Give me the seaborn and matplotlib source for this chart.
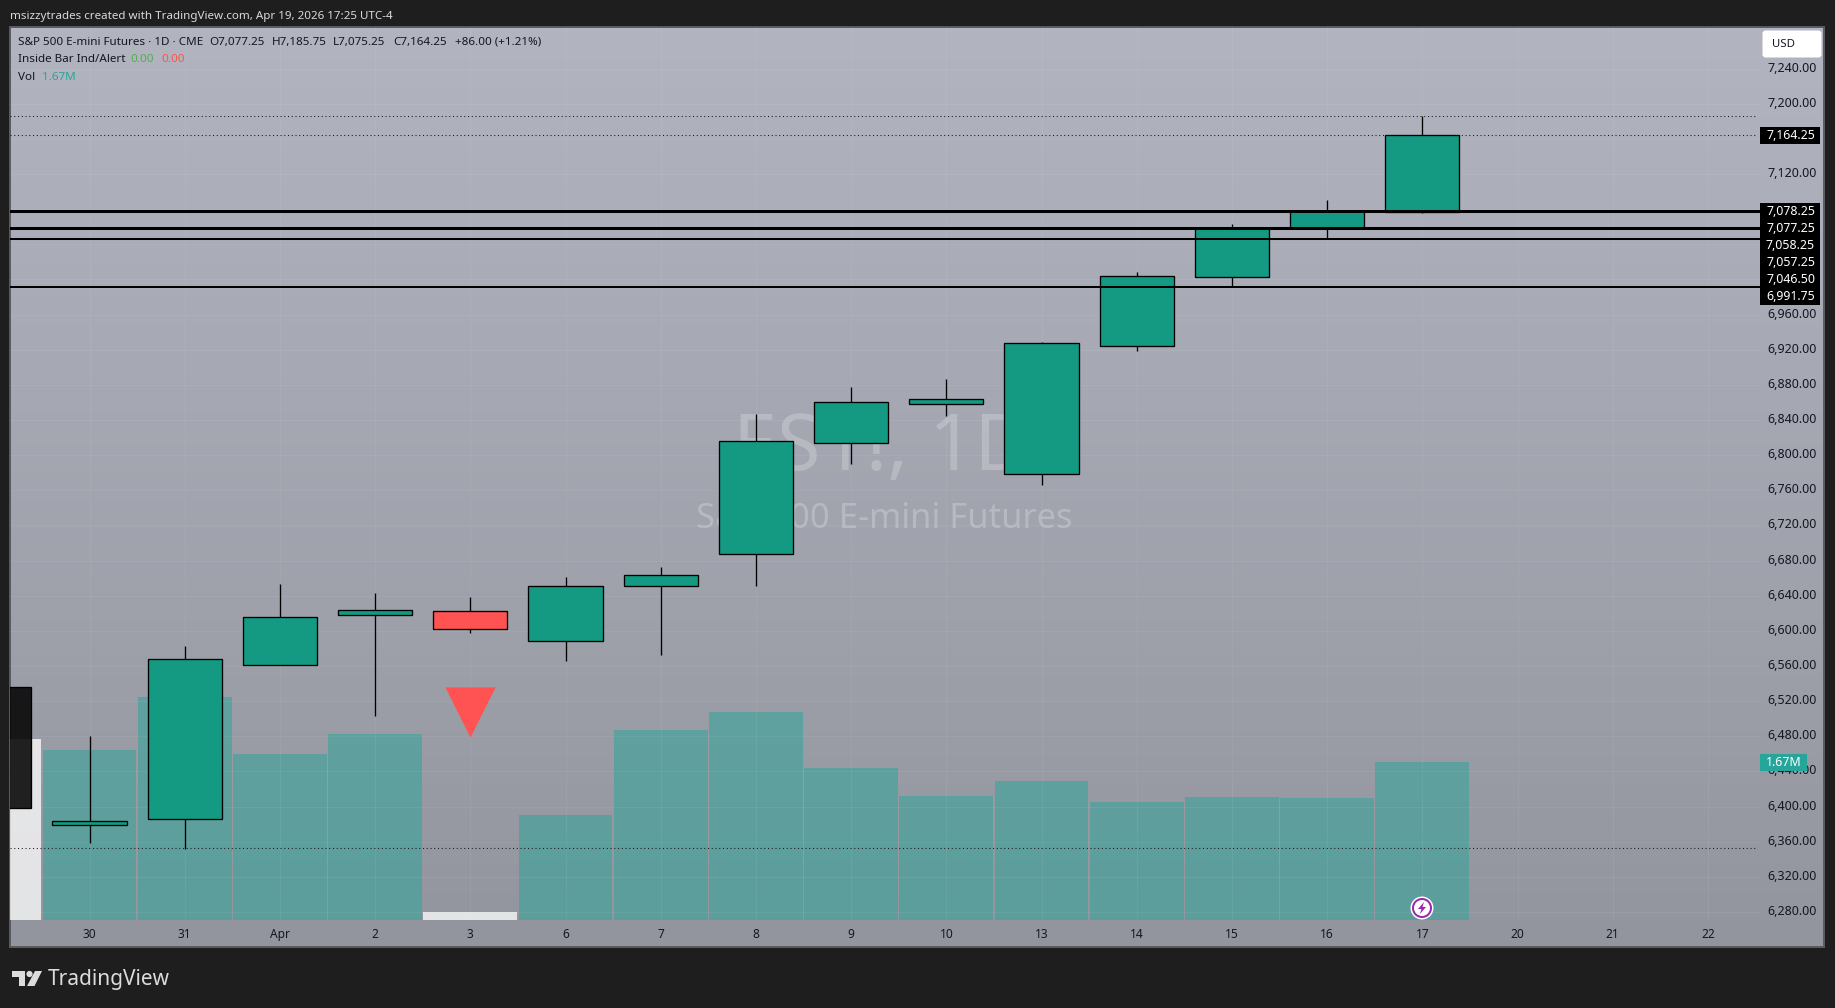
import numpy as np
import pandas as pd
import matplotlib.pyplot as plt
from matplotlib.patches import Rectangle, FancyBboxPatch, Circle, Polygon
from matplotlib.transforms import ScaledTranslation
import seaborn as sns

# Candles (index -1 is the bar cut by the left edge)
bar_index = [-1, 0, 1, 2, 3, 4, 5, 6, 7, 8, 9, 10, 11, 12, 13, 14]
opens = [6536, 6379, 6386, 6561, 6618, 6623, 6589, 6651, 6688, 6814, 6858, 6779, 6924, 7003, 7058.25, 7077.25]
closes = [6398, 6383, 6568, 6616, 6624, 6602, 6651, 6664, 6816, 6860, 6864, 6928, 7004, 7058.25, 7078.25, 7164.25]
highs = [6536, 6480, 6583, 6653, 6643, 6638, 6661, 6673, 6847, 6877, 6887, 6929, 7009, 7063, 7090, 7185.75]
lows = [6398, 6358, 6352, 6561, 6503, 6598, 6566, 6573, 6651, 6790, 6845, 6766, 6919, 6991, 7046, 7075.25]
body_colors = ["#000000", "#149a82", "#149a82", "#149a82", "#149a82", "#ff5252", "#149a82", "#149a82",
               "#149a82", "#149a82", "#149a82", "#149a82", "#149a82", "#149a82", "#149a82", "#149a82"]

# Volume in millions
volume = [1.91, 1.80, 2.36, 1.75, 1.97, 0.085, 1.115, 2.01, 2.20, 1.61, 1.31, 1.47, 1.25, 1.30, 1.29, 1.67]
vol_side = ["down", "up", "up", "up", "up", "down", "up", "up", "up", "up", "up", "up", "up", "up", "up", "up"]

# Axis labels
date_labels = ["30", "31", "Apr", "2", "3", "6", "7", "8", "9", "10", "13", "14", "15", "16", "17", "20", "21", "22"]
price_ticks = list(range(6280, 7241, 40))
hidden_ticks = [7160, 7080, 7040, 7000]

# Levels
solid_levels = [7078.25, 7077.25, 7058.25, 7057.25, 7046.50, 6991.75]
dotted_levels = [7185.75, 7164.25, 6352.5]
signal_x = [4]
signal_y = [6508]

W, H = 1835, 1008
DARK = "#1e1e1e"
TXT = "#131722"

sns.set_theme(style="white")
plt.rcParams["font.family"] = ["Noto Sans", "DejaVu Sans"]

fig = plt.figure(figsize=(W / 100, H / 100), dpi=100, facecolor=DARK)


def px_axes(zorder):
    a = fig.add_axes([0, 0, 1, 1], zorder=zorder)
    a.set_xlim(0, W)
    a.set_ylim(H, 0)
    a.axis("off")
    a.patch.set_alpha(0)
    return a


# background panel and watermark
bg = px_axes(0)
top_col = np.array([178, 181, 192]) / 255
bot_col = np.array([147, 149, 158]) / 255
grad = np.linspace(top_col, bot_col, 256).reshape(256, 1, 3)
bg.imshow(grad, extent=(10, 1824, 947, 27), aspect="auto", zorder=0)
bg.set_xlim(0, W)
bg.set_ylim(H, 0)
bg.add_patch(Rectangle((10, 27), 1814, 920, fill=False, edgecolor="#5a5b60", lw=1.4, zorder=1))
bg.text(882, 450, "ES1!, 1D", color="white", alpha=0.22, fontsize=57, ha="center", va="center", zorder=2)
bg.text(884, 519, "S&P 500 E-mini Futures", color="white", alpha=0.24, fontsize=24.9,
        ha="center", va="center", zorder=2)

# pane position in figure fractions
pane = [10 / W, 1 - 920 / H, 1750 / W, 893 / H]
xlim = ((10 - 89.5) / 95.2, (1760 - 89.5) / 95.2)
ylim = (7240 - (920 - 68.6) / 0.8785, 7240 + (68.6 - 27) / 0.8785)

# volume bars
vol_ax = fig.add_axes(pane, zorder=1)
vol_ax.patch.set_alpha(0)
vol_df = pd.DataFrame({"idx": bar_index, "vol": volume, "side": vol_side})
sns.barplot(data=vol_df, x="idx", y="vol", hue="side", native_scale=True, dodge=False, width=0.985,
            palette={"up": "#26a69a", "down": "#ffffff"}, saturation=1, alpha=0.5, linewidth=0,
            errorbar=None, legend=False, ax=vol_ax)
for p in vol_ax.patches:
    if p.get_facecolor()[0] > 0.9:
        p.set_alpha(0.75)
vol_ax.set_xlim(xlim)
vol_ax.set_ylim(0, 893 * 1.67 / 158)
vol_ax.axis("off")

# candles
ax = fig.add_axes(pane, zorder=2)
ax.patch.set_alpha(0)
ax.vlines(bar_index, lows, highs, color="black", lw=0.95, zorder=3)
bottoms = [min(o, c) for o, c in zip(opens, closes)]
heights = [abs(o - c) for o, c in zip(opens, closes)]
bars = ax.bar(bar_index, heights, bottom=bottoms, width=0.78, color=body_colors, edgecolor="black",
              linewidth=0.95, zorder=4)
bars[0].set_facecolor((0, 0, 0, 0.86))
ax.hlines(solid_levels, xlim[0], xlim[1], color="black", lw=1.45, zorder=5)
ax.hlines(dotted_levels, xlim[0], xlim[1] - 0.03, color="#1a1a1a", lw=0.75, linestyles=[(0, (1, 2.6))], zorder=2)
ax.scatter(signal_x, signal_y, marker="v", s=1300, color="#ff5252", linewidths=0, zorder=4)

ax.set_xlim(xlim)
ax.set_ylim(ylim)
ax.set_xticks(range(len(date_labels)))
ax.set_xticklabels(date_labels, fontsize=8.6, color=TXT)
ax.get_xticklabels()[2].set_fontweight("semibold")
ax.set_yticks(price_ticks)
ax.set_yticklabels(["" if t in hidden_ticks else f"{t:,.2f}" for t in price_ticks], fontsize=9, color=TXT)
ax.yaxis.tick_right()
ax.tick_params(axis="both", length=0)
ax.tick_params(axis="x", pad=6)
ax.tick_params(axis="y", pad=5.2)
ax.grid(True, color="white", alpha=0.06, lw=0.8)
ax.set_axisbelow(True)
for s in ax.spines.values():
    s.set_visible(False)
# the price scale text sits a touch above its grid line
up = ScaledTranslation(0, 2 / 100, fig.dpi_scale_trans)
for lab in ax.get_yticklabels():
    lab.set_transform(lab.get_transform() + up)

# overlay: price labels, legend, footer
ov = px_axes(3)


def price_box(cy, label):
    ov.add_patch(Rectangle((1760, cy - 8.5), 60, 17, color="black", lw=0))
    ov.text(1790.5, cy + 0.3, label, color="white", fontsize=8.9, fontweight="bold", ha="center", va="center")


price_box(135.5, "7,164.25")
for i, lv in enumerate(solid_levels):
    price_box(211.3 + i * 17, f"{lv:,.2f}")

ov.add_patch(Rectangle((1760, 754), 47, 17, color="#26a69a", lw=0))
ov.text(1783.5, 762.5, "1.67M", color="white", fontsize=8.9, fontweight="bold", ha="center", va="center")

ov.add_patch(FancyBboxPatch((1765, 33), 54, 22, boxstyle="round,pad=2.5,rounding_size=3", color="white", lw=0))
ov.text(1772, 44.5, "USD", color=TXT, fontsize=8.2, va="center")

ov.text(10, 16, "msizzytrades created with TradingView.com, Apr 19, 2026 17:25 UTC-4", color="#d8d9dc",
        fontsize=8.35, va="center")

for x, s in [(18, "S&P 500 E-mini Futures · 1D · CME"), (209, "O7,077.25"), (271.5, "H7,185.75"),
             (333, "L7,075.25"), (393, "C7,164.25"), (454.5, "+86.00 (+1.21%)")]:
    ov.text(x, 42.5, s, color=TXT, fontsize=8.4, va="center")
ov.text(18, 60, "Inside Bar Ind/Alert", color=TXT, fontsize=8.4, va="center")
ov.text(130, 60, "0.00", color="#4caf50", fontsize=8.4, va="center")
ov.text(161, 60, "0.00", color="#ff5252", fontsize=8.4, va="center")
ov.text(18, 77, "Vol", color=TXT, fontsize=8.4, va="center")
ov.text(41.5, 77, "1.67M", color="#26a69a", fontsize=8.4, va="center")

# lightning badge
ov.add_patch(Circle((1422, 908), 11.5, color="white", lw=0))
ov.add_patch(Circle((1422, 908), 10, color="#9c27b0", lw=0))
ov.add_patch(Circle((1422, 908), 8, color="white", lw=0))
ov.add_patch(Polygon([(1424, 902), (1418, 909), (1421.5, 909), (1420, 914), (1426, 907), (1422.5, 907)],
                     color="#9c27b0", lw=0))

# logo
logo = "#dcdcdc"
ov.add_patch(Polygon([(12, 971), (25, 971), (25, 986), (19, 986), (19, 977), (12, 977)], color=logo, lw=0))
ov.add_patch(Circle((29.5, 974), 3.1, color=logo, lw=0))
ov.add_patch(Polygon([(35, 971), (42, 971), (34.5, 986), (27, 986)], color=logo, lw=0))
ov.text(48, 979.5, "TradingView", color=logo, fontsize=15, fontweight="semibold", va="center")

fig.savefig("out.png", dpi=100, facecolor=DARK)
